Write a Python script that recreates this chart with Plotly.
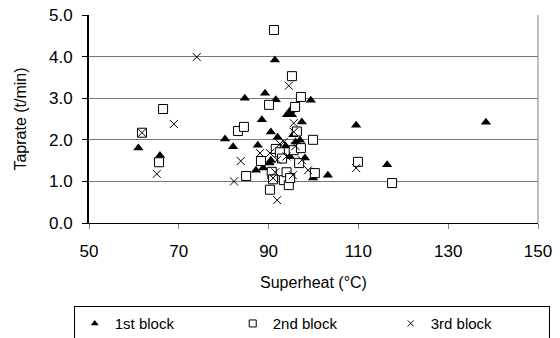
import plotly.graph_objects as go

tri_x = [61, 65.8, 80.3, 82.1, 84.7, 87.2, 87.6, 88.5, 88.8, 89.2, 90.2, 90.5, 90.5, 90.7, 91.4, 91.6, 92.0, 92.5, 93.2, 93.8, 94.1, 94.8, 94.8, 95.2, 95.5, 96.0, 97.0, 97.4, 98.1, 99.4, 99.9, 103.2, 109.5, 116.4, 138.4]
tri_y = [1.80, 1.62, 2.02, 1.83, 3.00, 1.27, 1.87, 2.48, 1.32, 3.12, 1.44, 2.19, 1.51, 1.12, 3.92, 2.96, 2.06, 1.75, 1.63, 1.85, 2.60, 2.70, 1.59, 2.60, 2.12, 1.95, 1.99, 2.43, 1.56, 2.95, 1.08, 1.15, 2.35, 1.40, 2.42]

sq_x = [61.8, 65.6, 66.5, 83.2, 84.5, 85.0, 88.3, 90.1, 90.3, 90.7, 91.2, 91.6, 92.5, 93.4, 94.0, 94.5, 94.8, 95.2, 95.6, 95.9, 96.3, 96.8, 97.2, 97.2, 99.9, 100.3, 109.9, 117.5, 91.0, 93.0]
sq_y = [2.17, 1.46, 2.74, 2.21, 2.31, 1.13, 1.49, 2.84, 0.80, 1.23, 4.64, 1.78, 1.70, 1.03, 1.22, 0.91, 1.08, 3.53, 1.75, 2.79, 2.20, 1.44, 3.03, 1.80, 2.00, 1.20, 1.47, 0.96, 1.05, 1.55]

x_x = [61.8, 65.1, 68.9, 74.0, 82.3, 83.8, 88.1, 90.3, 91.0, 91.5, 91.9, 91.9, 93.4, 94.0, 94.5, 95.4, 95.6, 95.6, 96.0, 97.4, 98.8, 109.5, 92.5]
x_y = [2.17, 1.18, 2.38, 3.99, 1.00, 1.49, 1.68, 1.68, 1.08, 1.22, 1.52, 0.55, 1.95, 1.60, 3.30, 1.15, 2.40, 2.19, 1.85, 1.51, 1.27, 1.32, 1.90]

series_names = ["1st block", "2nd block", "3rd block"]
x_ticks = [50, 70, 90, 110, 130, 150]
y_ticks = [0, 1, 2, 3, 4, 5]

font = "Liberation Sans, Arial, sans-serif"

styles = [
    dict(symbol="triangle-up", color="black", line=dict(width=0)),
    dict(symbol="square", color="white", line=dict(width=1, color="black")),
    dict(symbol="x-thin", color="black", line=dict(width=1, color="black")),
]
sizes = [9, 9, 8]
legend_sizes = [7, 7, 6]

fig = go.Figure()
for xs, ys, name, st, sz in zip([tri_x, sq_x, x_x], [tri_y, sq_y, x_y], series_names, styles, sizes):
    fig.add_trace(go.Scatter(x=xs, y=ys, mode="markers", name=name, showlegend=False,
                             marker=dict(size=sz, **st)))
for name, st, sz in zip(series_names, styles, legend_sizes):
    fig.add_trace(go.Scatter(x=[None], y=[None], mode="markers", name=name,
                             marker=dict(size=sz, **st)))

fig.update_layout(
    width=560, height=338,
    margin=dict(l=89, r=22, t=15, b=115, autoexpand=False),
    paper_bgcolor="white", plot_bgcolor="white",
    font=dict(family=font, size=16, color="black"),
    showlegend=True,
    legend=dict(orientation="h", x=-0.034, xanchor="left", y=-0.40, yanchor="top",
                bordercolor="black", borderwidth=1, bgcolor="white",
                entrywidth=113, entrywidthmode="pixels", itemwidth=30,
                font=dict(family=font, size=15, color="black")),
    xaxis=dict(range=[50, 150], tickvals=x_ticks, ticks="outside", ticklen=5,
               tickcolor="#808080", showline=True, linecolor="black", linewidth=1,
               showgrid=False, zeroline=False, mirror=False, ticklabelstandoff=8,
               title=dict(text="Superheat (°C)", font=dict(size=16, color="black"), standoff=16),
               tickfont=dict(size=17, color="black")),
    yaxis=dict(range=[0, 5], tickvals=y_ticks, tickformat=".1f", ticks="outside",
               ticklen=5, tickcolor="black", showline=True, linecolor="black", linewidth=2,
               showgrid=True, gridcolor="#777777", gridwidth=1, zeroline=False,
               ticklabelstandoff=6,
               title=dict(text="Taprate (t/min)", font=dict(size=16, color="black"), standoff=18),
               tickfont=dict(size=17, color="black")),
    shapes=[dict(type="line", xref="paper", yref="paper", x0=1, x1=1, y0=0, y1=1,
                 line=dict(color="#808080", width=1))],
)

fig.write_html("out.html")
